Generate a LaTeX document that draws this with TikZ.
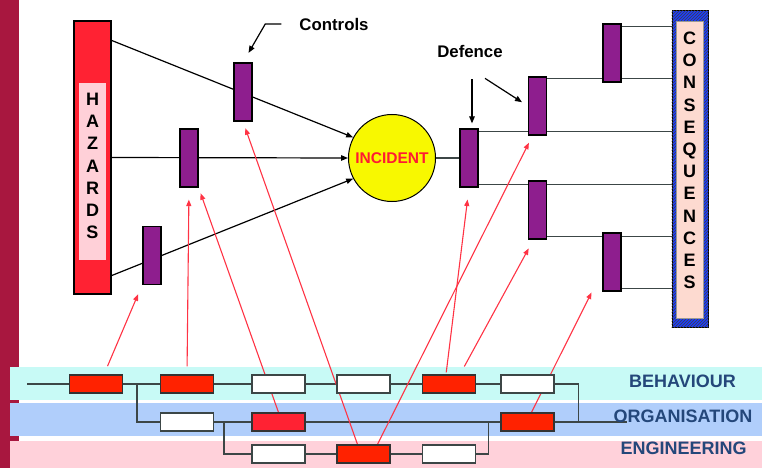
\documentclass[tikz,border=0pt]{standalone}
\usepackage{fontspec}
\setmainfont{Liberation Sans}
\usetikzlibrary{arrows.meta,patterns,backgrounds}
\definecolor{sidebar}{HTML}{A8173F}
\definecolor{bandcyan}{HTML}{C8FAF6}
\definecolor{bandblue}{HTML}{B0CEFB}
\definecolor{bandpink}{HTML}{FFD1DA}
\definecolor{bandtext}{HTML}{24477A}
\definecolor{hazred}{HTML}{FF2233}
\definecolor{hazpink}{HTML}{FFD0D8}
\definecolor{ctrlpurple}{HTML}{8E1E8E}
\definecolor{consblue}{HTML}{1A3CFF}
\definecolor{conspeach}{HTML}{FDDAD0}
\definecolor{incyellow}{HTML}{F8F800}
\definecolor{incred}{HTML}{FF1A33}
\definecolor{slotred}{HTML}{FF2200}
\definecolor{linegray}{HTML}{3C4646}
\definecolor{arrowred}{HTML}{FF3344}
\begin{document}
\begin{tikzpicture}[x=1pt,y=-1pt,
		barrier/.style={draw=black,line width=1.2pt,fill=ctrlpurple,minimum width=18pt,minimum height=58pt,inner sep=0pt},
		slot/.style={draw=linegray,line width=1.2pt,fill=white,minimum width=53pt,minimum height=18pt,inner sep=0pt},
		redslot/.style={slot,draw=black!80,fill=slotred},
		blk/.style={black,line width=1.2pt,-{Triangle[length=7pt,width=5.5pt]}},
		trace/.style={arrowred,line width=1.1pt,-{Triangle[length=6.5pt,width=5pt]}},
		link/.style={linegray,line width=1.3pt},
		lbl/.style={font=\fontsize{16.8}{20}\selectfont\bfseries,inner sep=2pt},
		band/.style={font=\fontsize{18}{21}\selectfont\bfseries,text=bandtext},
		letters/.style={font=\fontsize{18}{22.2}\selectfont\bfseries,align=center,inner sep=0pt}]
	\useasboundingbox (0,0) rectangle (762,468);

	\node[draw=black,line width=1.2pt,fill=hazred,minimum width=37pt,minimum height=273pt,inner sep=0pt] (haz) at (92.5,157.5) {};
	\fill[hazpink] (79,83) rectangle (106,260);
	\node[letters] (hazlbl) at (92.5,166) {H\\A\\Z\\A\\R\\D\\S};

	\node[draw=black,line width=1pt,fill=consblue,minimum width=36pt,minimum height=316pt,inner sep=0pt] (cons) at (690,169) {};
	\fill[pattern=north east lines,pattern color=black!75] (cons.south west) rectangle (cons.north east);
	\filldraw[fill=conspeach,draw=black!40,line width=0.6pt] (676,21) rectangle (703,318);
	\node[letters] (conslbl) at (689.5,160.5) {C\\O\\N\\S\\E\\Q\\U\\E\\N\\C\\E\\S};

	\node[circle,draw=black,line width=1pt,fill=incyellow,minimum size=87pt,inner sep=0pt,text=incred,font=\fontsize{15.5}{18}\selectfont\bfseries] (inc) at (392,158) {INCIDENT};

	\node[barrier] (c1) at (243,92) {};
	\node[barrier] (c2) at (189,158) {};
	\node[barrier] (c3) at (152,255.5) {};
	\node[barrier] (d1) at (469,158) {};
	\node[barrier] (d2) at (537.5,106) {};
	\node[barrier] (d3) at (537.5,210) {};
	\node[barrier] (d4) at (612,53) {};
	\node[barrier] (d5) at (612,262) {};

	\node[lbl] (ctl) at (334,24) {Controls};
	\node[lbl] (dfn) at (470,51) {Defence};

	\node[redslot] (b1) at (96,384) {};
	\node[redslot] (b2) at (187,384) {};
	\node[slot] (b3) at (278.5,384) {};
	\node[slot] (b4) at (363.5,384) {};
	\node[redslot] (b5) at (449,384) {};
	\node[slot] (b6) at (527.5,384) {};
	\node[slot] (o1) at (187,422) {};
	\node[redslot,fill=hazred] (o2) at (278.5,422) {};
	\node[redslot] (o3) at (527.5,422) {};
	\node[slot] (e1) at (278.5,454) {};
	\node[redslot] (e2) at (363.5,454) {};
	\node[slot] (e3) at (449,454) {};

	\node[band] (bhv) at (682.5,381.5) {BEHAVIOUR};
	\node[band] (org) at (683,416) {ORGANISATION};
	\node[band] (eng) at (683.5,448) {ENGINEERING};

	\begin{pgfonlayer}{background}
		\fill[sidebar] (0,0) rectangle (19,468);
		\fill[bandcyan] (10,367) rectangle (762,400);
		\fill[bandblue] (10,403) rectangle (762,436);
		\fill[bandpink] (10,441) rectangle (762,468);

		\draw[blk] ([yshift=-20]haz.north east) -- (inc.152);
		\draw[blk] (haz.east) -- (inc.west);
		\draw[blk] ([yshift=19]haz.south east) -- (inc.208);

		\draw[link] (inc.east) -- (d1.west);
		\draw[link] ([yshift=-3]d4.north east) -- ([yshift=-3]d4.north east -| cons.west);
		\draw[link] ([yshift=-2]d2.north east) -- ([yshift=-2]d2.north east -| cons.west);
		\draw[link] ([yshift=-3]d1.north east) -- ([yshift=-3]d1.north east -| cons.west);
		\draw[link] ([yshift=3]d1.south east) -- ([yshift=3]d1.south east -| cons.west);
		\draw[link] ([yshift=3]d3.south east) -- ([yshift=3]d3.south east -| cons.west);
		\draw[link] ([yshift=3]d5.south east) -- ([yshift=3]d5.south east -| cons.west);

		\draw[blk,shorten >=11] ([xshift=-16]ctl.west) -- ++(-16,0) -- (c1.north);
		\draw[blk,shorten <=20,shorten >=5] ([xshift=2]dfn.south) -- ([xshift=3]d1.north);
		\draw[blk,shorten >=7] ([xshift=15,yshift=-19]dfn.south) -- (d2.west);

		\coordinate (in0) at (27,384);
		\coordinate (orgend) at (627,422);
		\draw[link] (in0) -- (b1.west);
		\draw[link] (b1.east) -- (b2.west) (b2.east) -- (b3.west) (b3.east) -- (b4.west)
			(b4.east) -- (b5.west) (b5.east) -- (b6.west);
		\draw[link] ([xshift=14]b1.east) |- (o1.west);
		\draw[link] (o1.east) -- (o2.west) (o2.east) -- (o3.west);
		\draw[link] ([xshift=10]o1.east) |- (e1.west);
		\draw[link] ([xshift=-12]o3.west) |- (e3.east);
		\draw[link] (e1.east) -- (e2.west) (e2.east) -- (e3.west);
		\draw[link] (b6.east) -| ([xshift=24]o3.east);
		\draw[link] (o3.east) -- (orgend);

		\draw[trace,shorten <=9,shorten >=10] ([xshift=8]b1.north) -- ([xshift=-10]c3.south);
		\draw[trace,shorten <=8,shorten >=12] (b2.north) -- (c2.south);
		\draw[trace,shorten >=6] (o2.north) -- (c2.south east);
		\draw[trace,shorten >=7] ([xshift=-6]e2.north) -- (c1.south);
		\draw[trace,shorten >=8] ([xshift=14]e2.north) -- ([xshift=-5]d2.south);
		\draw[trace,shorten <=2,shorten >=12] ([xshift=-3]b5.north) -- (d1.south);
		\draw[trace,shorten <=9,shorten >=10] ([xshift=11]b5.north) -- ([xshift=-4]d3.south);
		\draw[trace,shorten >=1] ([xshift=4]o3.north) -- ([xshift=-20]d5.south);
	\end{pgfonlayer}
\end{tikzpicture}
\end{document}
